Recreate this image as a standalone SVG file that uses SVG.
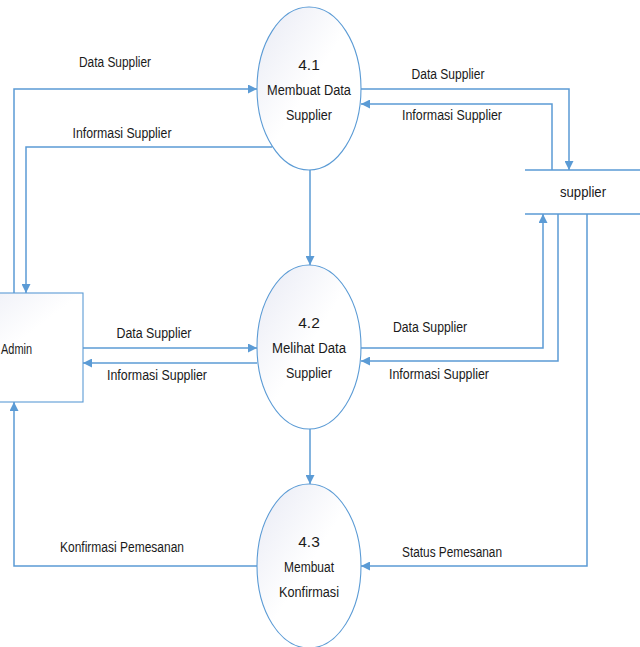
<svg xmlns="http://www.w3.org/2000/svg" width="640" height="647" viewBox="0 0 640 647">
<defs>
<linearGradient id="g" x1="0" y1="0" x2="1" y2="1">
<stop offset="0" stop-color="#e8eaf4"/>
<stop offset="0.5" stop-color="#ffffff"/>
<stop offset="1" stop-color="#ffffff"/>
</linearGradient>
<marker id="ah" viewBox="0 0 10 10" refX="10" refY="5" markerWidth="9" markerHeight="9" markerUnits="userSpaceOnUse" orient="auto">
<path d="M0,0 L10,5 L0,10 z" fill="#5b9bd5"/>
</marker>
<style>
.n{fill:url(#g);stroke:#5b9bd5;stroke-width:1.1}
.c{fill:none;stroke:#5b9bd5;stroke-width:1.5;marker-end:url(#ah)}
.s{fill:none;stroke:#5b9bd5;stroke-width:1.5}
text{font-family:"Liberation Sans",Arial,sans-serif;font-size:15.5px;fill:#1a1a1a}
.m{text-anchor:middle}
</style>
</defs>
<rect width="640" height="647" fill="#ffffff"/>
<g id="connectors">
<path class="c" d="M14,293 V89 H257"/>
<path class="c" d="M272,147 H26 V293"/>
<path class="c" d="M361,89 H569 V170"/>
<path class="c" d="M552,170 V104 H361"/>
<path class="c" d="M310,170 V265"/>
<path class="c" d="M83,348 H257"/>
<path class="c" d="M257,363 H83"/>
<path class="c" d="M361,348 H543 V214"/>
<path class="c" d="M558,214 V361 H361"/>
<path class="c" d="M310,429 V484"/>
<path class="c" d="M587,214 V566 H361"/>
<path class="c" d="M257,566 H14 V402"/>
<text x="115" y="67" class="m" textLength="72" lengthAdjust="spacingAndGlyphs">Data Supplier</text>
<text x="122" y="138" class="m" textLength="99" lengthAdjust="spacingAndGlyphs">Informasi Supplier</text>
<text x="448" y="79" class="m" textLength="73" lengthAdjust="spacingAndGlyphs">Data Supplier</text>
<text x="452" y="120" class="m" textLength="100" lengthAdjust="spacingAndGlyphs">Informasi Supplier</text>
<text x="154" y="338" class="m" textLength="75" lengthAdjust="spacingAndGlyphs">Data Supplier</text>
<text x="157" y="380" class="m" textLength="100" lengthAdjust="spacingAndGlyphs">Informasi Supplier</text>
<text x="430" y="332" class="m" textLength="74" lengthAdjust="spacingAndGlyphs">Data Supplier</text>
<text x="439" y="379" class="m" textLength="100" lengthAdjust="spacingAndGlyphs">Informasi Supplier</text>
<text x="122" y="552" class="m" textLength="124" lengthAdjust="spacingAndGlyphs">Konfirmasi Pemesanan</text>
<text x="452" y="557" class="m" textLength="100" lengthAdjust="spacingAndGlyphs">Status Pemesanan</text>
</g>
<g id="admin">
<rect class="n" x="-60" y="293" width="143" height="109"/>
<text x="1" y="354" textLength="31" lengthAdjust="spacingAndGlyphs">Admin</text>
</g>
<g id="p41">
<ellipse class="n" cx="309" cy="88.5" rx="52" ry="81.5"/>
<text x="309" y="70" class="m">4.1</text>
<text x="309" y="95" class="m" textLength="84" lengthAdjust="spacingAndGlyphs">Membuat Data</text>
<text x="309" y="120" class="m" textLength="46" lengthAdjust="spacingAndGlyphs">Supplier</text>
</g>
<g id="p42">
<ellipse class="n" cx="309" cy="347" rx="52" ry="82"/>
<text x="309" y="328" class="m">4.2</text>
<text x="309" y="353" class="m" textLength="74" lengthAdjust="spacingAndGlyphs">Melihat Data</text>
<text x="309" y="378" class="m" textLength="46" lengthAdjust="spacingAndGlyphs">Supplier</text>
</g>
<g id="p43">
<ellipse class="n" cx="309" cy="566" rx="52" ry="82"/>
<text x="309" y="547" class="m">4.3</text>
<text x="309" y="572" class="m" textLength="50" lengthAdjust="spacingAndGlyphs">Membuat</text>
<text x="309" y="597" class="m" textLength="60" lengthAdjust="spacingAndGlyphs">Konfirmasi</text>
</g>
<g id="supplier">
<rect x="525" y="170" width="115" height="44" fill="#ffffff"/>
<path class="s" d="M525,170 H640 M525,214 H640"/>
<text x="583" y="197" class="m" textLength="46" lengthAdjust="spacingAndGlyphs">supplier</text>
</g>
</svg>
